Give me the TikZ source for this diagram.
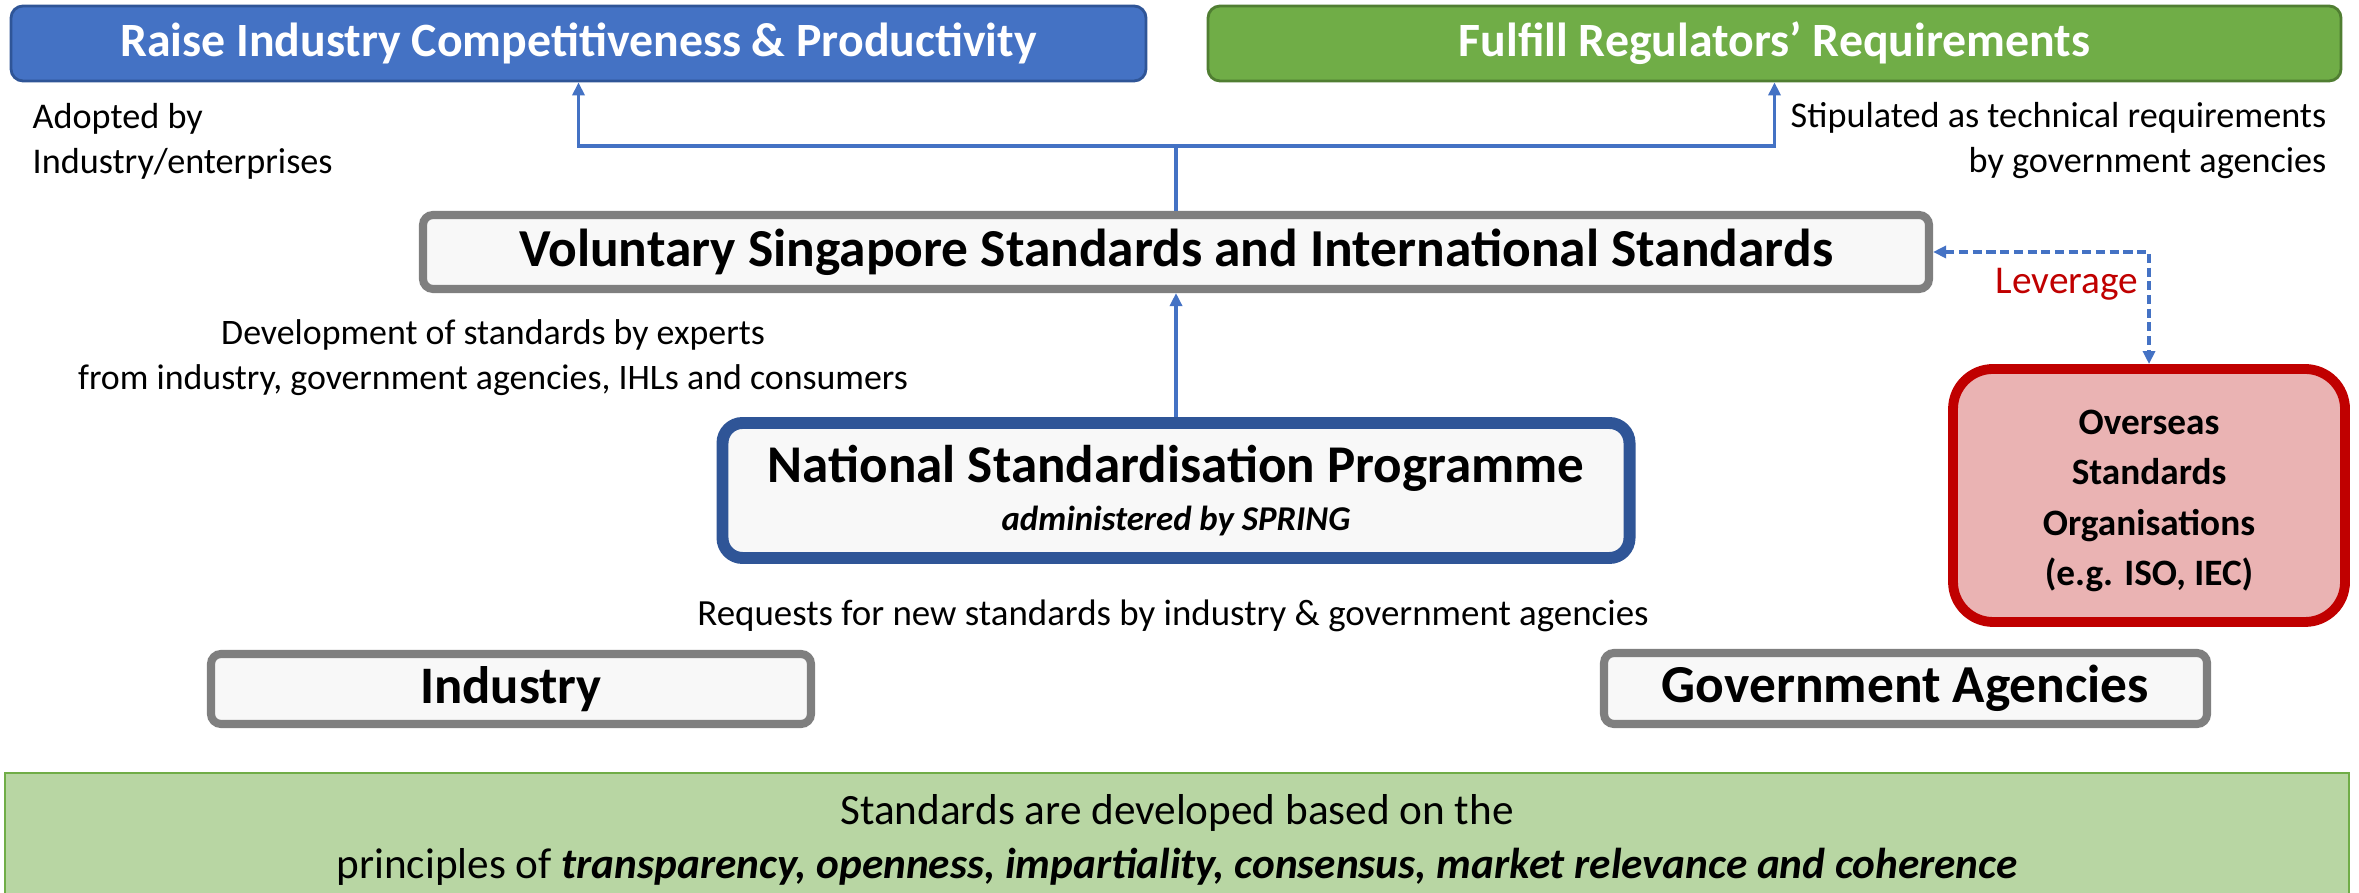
\documentclass[tikz,border=0pt]{standalone}
\usepackage{fontspec}
\setmainfont{Carlito}
\usetikzlibrary{arrows.meta,positioning}

\definecolor{topblue}{RGB}{68,114,196}
\definecolor{darkblue}{RGB}{47,85,151}
\definecolor{topgreen}{RGB}{112,173,71}
\definecolor{darkgreen}{RGB}{80,126,50}
\definecolor{boxgray}{RGB}{127,127,127}
\definecolor{boxfill}{RGB}{248,248,248}
\definecolor{darkred}{RGB}{192,0,0}
\definecolor{pinkfill}{RGB}{234,179,179}
\definecolor{lightgreen}{RGB}{184,214,163}

\begin{document}
\begin{tikzpicture}[
  goal/.style={draw, rounded corners=0.12cm, line width=0.8pt, text=white,
    font=\fontsize{13.6}{16}\selectfont\bfseries, minimum height=0.75cm},
  stdbox/.style={draw=boxgray, fill=boxfill, rounded corners=0.1cm, line width=2.3pt},
  note/.style={inner sep=0pt, font=\fontsize{10.3}{12.8}\selectfont},
  link/.style={topblue, line width=1.1pt, -{Triangle[length=0.13cm,width=0.12cm]}}
]
\useasboundingbox (0,0) rectangle (23.59,8.93);

% Goals on top
\node[goal, fill=topblue, draw=darkblue, minimum width=11.35cm] (raise) at (5.785,8.495)
  {Raise Industry Competitiveness \& Productivity};
\node[goal, fill=topgreen, draw=darkgreen, minimum width=11.33cm] (fulfill) at (17.745,8.495)
  {Fulfill Regulators’ Requirements};

\node[note, anchor=west, align=left] (adopted) at (0.32,7.52) {Adopted by\\Industry/enterprises};
\node[note, anchor=east, align=right] (stipulated) at (23.27,7.52)
  {Stipulated as technical requirements\\by government agencies};

% Standards
\node[stdbox, minimum width=15.06cm, minimum height=0.74cm,
  font=\fontsize{15.2}{18}\selectfont\bfseries] (vss) at (11.76,6.41)
  {Voluntary Singapore Standards and International Standards};

\node[note, align=center, font=\fontsize{10.2}{12.8}\selectfont] (development) at (4.93,5.35)
  {Development of standards by experts\\from industry, government agencies, IHLs and consumers};

% Programme
\node[draw=darkblue, fill=boxfill, line width=3.4pt, rounded corners=0.2cm,
  minimum width=9.07cm, minimum height=1.35cm, align=center] (nsp) at (11.76,4.025)
  {\fontsize{15.1}{18}\selectfont\bfseries National Standardisation Programme\\[1.5pt]
   \fontsize{9.9}{11}\selectfont\bfseries\itshape administered by SPRING};

\node[note, font=\fontsize{10.5}{12.8}\selectfont] (requests) at (11.73,2.77)
  {Requests for new standards by industry \&\ government agencies};

\node[stdbox, minimum width=6.0cm, minimum height=0.70cm,
  font=\fontsize{15}{18}\selectfont\bfseries] (industry) at (5.11,2.04) {Industry};
\node[stdbox, minimum width=6.03cm, minimum height=0.71cm,
  font=\fontsize{15.2}{18}\selectfont\bfseries] (agencies) at (19.055,2.045) {Government Agencies};

% Overseas
\node[draw=darkred, fill=pinkfill, line width=2.8pt, rounded corners=0.4cm,
  minimum width=3.92cm, minimum height=2.53cm, align=center,
  font=\fontsize{10.6}{14.4}\selectfont\bfseries] (overseas) at (21.49,3.975)
  {\strut Overseas\\Standards\\Organisations\\(e.g. ISO, IEC)};

% Principles
\draw[topgreen, fill=lightgreen, line width=0.8pt] (0.05,0) -- (0.05,1.20) -- (23.49,1.20) -- (23.49,0);
\node[align=center, inner sep=0pt, font=\fontsize{12.3}{15.3}\selectfont] (principles) at (11.77,0.53)
  {Standards are developed based on the\\
   principles of \textbf{\textit{transparency, openness, impartiality, consensus, market relevance and coherence}}};

% Connectors
\coordinate (fork) at (11.76,7.47);
\draw[topblue, line width=1.1pt] (vss.north) -- (fork);
\draw[link] (fork) -| (raise.south);
\draw[link] (fork) -| (fulfill.south);
\draw[link] (nsp.north) -- (vss.south);

\coordinate (bend) at (overseas.north |- vss.east);
\draw[link, dash pattern=on 2.6pt off 1.3pt, {Triangle[length=0.13cm,width=0.12cm]}-{Triangle[length=0.13cm,width=0.12cm]}]
  (vss.east) -- (bend) -- (overseas.north);
\node[note, anchor=east, text=darkred, font=\fontsize{11.2}{13}\selectfont] (leverage) at (21.39,6.09) {Leverage};

\end{tikzpicture}
\end{document}
